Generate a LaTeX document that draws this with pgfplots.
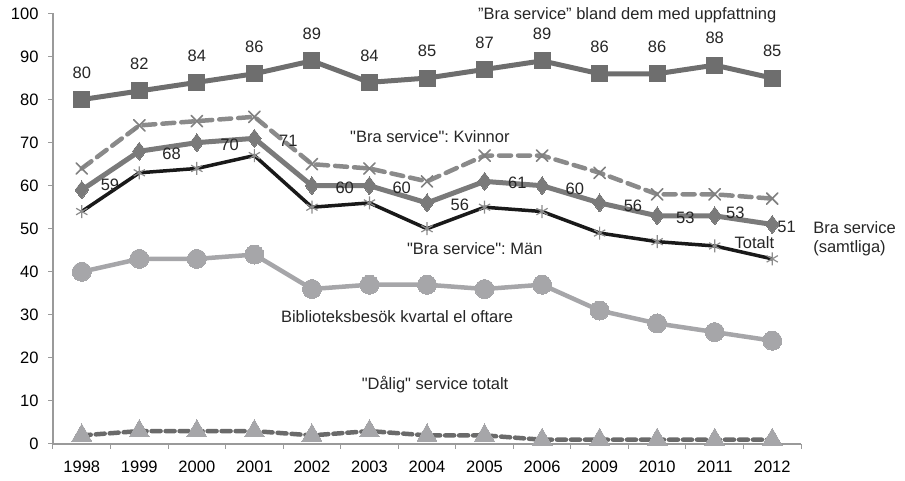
\documentclass[border=0pt]{standalone}
\usepackage{pgfplots}
\pgfplotsset{compat=1.18}
\usepackage{fontspec}
\setmainfont{Liberation Sans}
\frenchspacing
\definecolor{sqc}{HTML}{6E6E6E}
\definecolor{dic}{HTML}{7A7A7A}
\definecolor{kvc}{HTML}{8A8A8A}
\definecolor{kvm}{HTML}{808080}
\definecolor{mam}{HTML}{8C8C8C}
\definecolor{cic}{HTML}{A6A6A9}
\definecolor{dac}{HTML}{6A6A6A}
\definecolor{trc}{HTML}{A6A6A9}
\definecolor{axc}{HTML}{9A9A9A}
\begin{document}
\begin{tikzpicture}[font=\fontsize{16.5}{19}\selectfont\frenchspacing]
\path[use as bounding box] (0,0) rectangle (905pt,481pt);
\begin{axis}[
  at={(53pt,37pt)}, anchor=south west,
  scale only axis, width=748pt, height=430.5pt,
  xmin=-0.5, xmax=12.5, ymin=0, ymax=100,
  axis lines=left, axis line style={-, draw=axc, line width=1.2pt},
  xtick={0,...,12},
  xticklabels={1998,1999,2000,2001,2002,2003,2004,2005,2006,2009,2010,2011,2012},
  major x tick style={draw=none},
  minor xtick={-0.5,0.5,...,12.5},
  ytick={0,10,...,100},
  tick align=outside,
  tick style={axc, line width=1pt},
  major tick length=5pt, minor tick length=5pt,
  clip=false,
  /pgf/number format/assume math mode=true,
  ticklabel style={font=\fontsize{16.5}{19}\selectfont},
  xticklabel style={yshift=-8pt},
  yticklabel style={xshift=-6pt},
]
% Dalig service totalt
\addplot[color=dac, line width=4.5pt, dash pattern=on 9pt off 5pt, line cap=round,
  mark=triangle*, mark size=11.5pt, mark options={solid, fill=trc, draw=trc, line width=0pt}]
  coordinates {(0,2)(1,3)(2,3)(3,3)(4,2)(5,3)(6,2)(7,2)(8,1)(9,1)(10,1)(11,1)(12,1)};
% Biblioteksbesok
\addplot[color=cic, line width=4.5pt, mark=*, mark size=9.5pt, mark options={fill=cic, draw=cic, line width=0pt}]
  coordinates {(0,40)(1,43)(2,43)(3,44)(4,36)(5,37)(6,37)(7,36)(8,37)(9,31)(10,28)(11,26)(12,24)};
% Man
\addplot[color=black!90, line width=3.5pt, mark=asterisk, mark size=6.5pt, mark options={draw=mam, line width=1.2pt}]
  coordinates {(0,54)(1,63)(2,64)(3,67)(4,55)(5,56)(6,50)(7,55)(8,54)(9,49)(10,47)(11,46)(12,43)};
% Kvinnor
\addplot[color=kvc, line width=4.5pt, dash pattern=on 12pt off 7pt, line cap=round,
  mark=x, mark size=8pt, mark options={solid, draw=kvm, line width=1.6pt}]
  coordinates {(0,64)(1,74)(2,75)(3,76)(4,65)(5,64)(6,61)(7,67)(8,67)(9,63)(10,58)(11,58)(12,57)};
% Bra service totalt (samtliga)
\addplot[color=dic, line width=5pt, mark=diamond*, mark size=9pt, mark options={fill=dic, draw=dic, line width=0pt}]
  coordinates {(0,59)(1,68)(2,70)(3,71)(4,60)(5,60)(6,56)(7,61)(8,60)(9,56)(10,53)(11,53)(12,51)};
% Bra service bland dem med uppfattning
\addplot[color=sqc, line width=5pt, mark=square*, mark size=8pt, mark options={fill=sqc, draw=sqc, line width=0pt},
  nodes near coords, every node near coord/.append style={anchor=center, yshift=27pt, text=black!85, font=\fontsize{16.5}{19}\selectfont}]
  coordinates {(0,80)(1,82)(2,84)(3,86)(4,89)(5,84)(6,85)(7,87)(8,89)(9,86)(10,86)(11,88)(12,85)};
% data labels for totalt
\begin{scope}[every node/.style={text=black!85}]
\node at (axis cs:0.49,60.2) {59};
\node at (axis cs:1.56,67.5) {68};
\node at (axis cs:2.57,69.4) {70};
\node at (axis cs:3.59,70.5) {71};
\node at (axis cs:4.57,59.4) {60};
\node at (axis cs:5.56,59.4) {60};
\node at (axis cs:6.57,55.5) {56};
\node at (axis cs:7.57,60.6) {61};
\node at (axis cs:8.57,59.2) {60};
\node at (axis cs:9.58,55.3) {56};
\node at (axis cs:10.49,52.5) {53};
\node at (axis cs:11.36,53.6) {53};
\node at (axis cs:12.25,50.5) {51};
% annotations
\node at (axis cs:9.48,99.7) {”Bra service” bland dem med uppfattning};
\node at (axis cs:6.05,71.4) {\textquotedbl Bra service\textquotedbl: Kvinnor};
\node at (axis cs:6.83,45.5) {\textquotedbl Bra service\textquotedbl: Män};
\node at (axis cs:5.48,29.7) {Biblioteksbesök kvartal el oftare};
\node at (axis cs:6.14,13.7) {\textquotedbl Dålig\textquotedbl\ service totalt};
\node at (axis cs:11.69,46.8) {Totalt};
\node[anchor=west, align=left, inner sep=0pt] at (axis cs:12.71,47.6) {Bra service\\(samtliga)};
\end{scope}
\end{axis}
\end{tikzpicture}
\end{document}
